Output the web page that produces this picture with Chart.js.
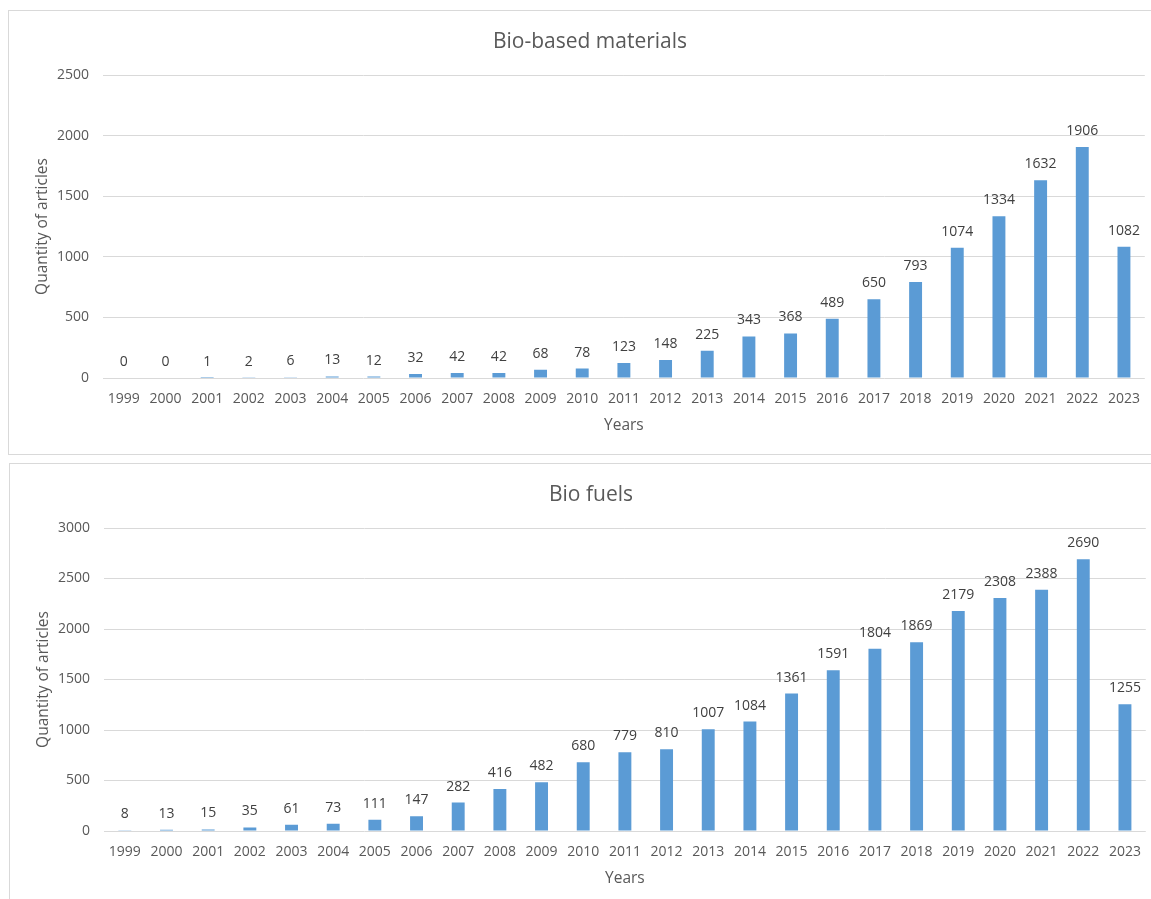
<!DOCTYPE html>
<html>
<head>
<meta charset="utf-8">
<script src="https://cdn.jsdelivr.net/npm/chart.js@4"></script>
<style>
  body { margin: 0; background: #fff; overflow: hidden; }
  .panel {
    position: absolute;
    width: 1300px;
    height: 445px;
    border: 1px solid #d9d9d9;
    box-sizing: border-box;
    background: #fff;
  }
  .wrap { position: relative; width: 1144px; height: 443px; }
</style>
</head>
<body>
<div class="panel" style="left:8px; top:10px;"><div class="wrap"><canvas id="materialsChart"></canvas></div></div>
<div class="panel" style="left:9px; top:463px;"><div class="wrap"><canvas id="fuelsChart"></canvas></div></div>
<script>
// Years on the x axis (same for both charts)
const years = ['1999', '2000', '2001', '2002', '2003', '2004', '2005', '2006', '2007', '2008',
    '2009', '2010', '2011', '2012', '2013', '2014', '2015', '2016', '2017', '2018',
    '2019', '2020', '2021', '2022', '2023'];

// Article counts per year
const bioMaterials = [0, 0, 1, 2, 6, 13, 12, 32, 42, 42, 68, 78, 123, 148, 225, 343, 368, 489,
    650, 793, 1074, 1334, 1632, 1906, 1082];
const bioFuels = [8, 13, 15, 35, 61, 73, 111, 147, 282, 416, 482, 680, 779, 810, 1007, 1084,
    1361, 1591, 1804, 1869, 2179, 2308, 2388, 2690, 1255];

const FONT = '"Open Sans", sans-serif';
const TEXT = '#595959';

// Draws the value above every bar
const barLabels = {
    id: 'barLabels',
    afterDatasetsDraw(chart) {
        const ctx = chart.ctx;
        const values = chart.data.datasets[0].data;
        ctx.save();
        ctx.font = '14px ' + FONT;
        ctx.fillStyle = '#404040';
        ctx.textAlign = 'center';
        ctx.textBaseline = 'middle';
        chart.getDatasetMeta(0).data.forEach((bar, i) => {
            ctx.fillText(String(values[i]), bar.x, bar.y - 16);
        });
        ctx.restore();
    }
};

function renderYearChart(canvasId, title, values, yMax) {
    const ctx = document.getElementById(canvasId).getContext('2d');
    return new Chart(ctx, {
        type: 'bar',
        data: {
            labels: years,
            datasets: [{
                label: title,
                data: values,
                backgroundColor: '#5b9bd5',
                barPercentage: 0.31,
                categoryPercentage: 1.0
            }]
        },
        options: {
            responsive: true,
            maintainAspectRatio: false,
            animation: false,
            layout: { padding: { top: 5, right: 2, bottom: 19.6, left: 20 } },
            scales: {
                x: {
                    grid: { display: false, drawTicks: false },
                    border: { display: false },
                    ticks: { color: TEXT, font: { family: FONT, size: 14 }, padding: 13, maxRotation: 0 },
                    title: {
                        display: true, text: 'Years', color: TEXT,
                        font: { family: FONT, size: 15.5 }, padding: { top: -5, bottom: 0 }
                    }
                },
                y: {
                    min: 0,
                    max: yMax,
                    grid: { color: '#d9d9d9', drawTicks: false },
                    border: { display: false },
                    ticks: {
                        stepSize: 500, color: TEXT, font: { family: FONT, size: 14 }, padding: 14,
                        callback: value => String(value)
                    },
                    title: {
                        display: true, text: 'Quantity of articles', color: TEXT,
                        font: { family: FONT, size: 15.5 }, padding: { top: 4, bottom: 0 }
                    },
                    afterFit(scale) { scale.width = 74; }
                }
            },
            plugins: {
                legend: { display: false },
                tooltip: { enabled: false },
                title: {
                    display: true, text: title, color: TEXT,
                    font: { family: FONT, size: 21, weight: 'normal' },
                    padding: { top: 13.4, bottom: 20.4 }
                }
            }
        },
        plugins: [barLabels]
    });
}

renderYearChart('materialsChart', 'Bio-based materials', bioMaterials, 2500);
renderYearChart('fuelsChart', 'Bio fuels', bioFuels, 3000);
</script>
</body>
</html>
